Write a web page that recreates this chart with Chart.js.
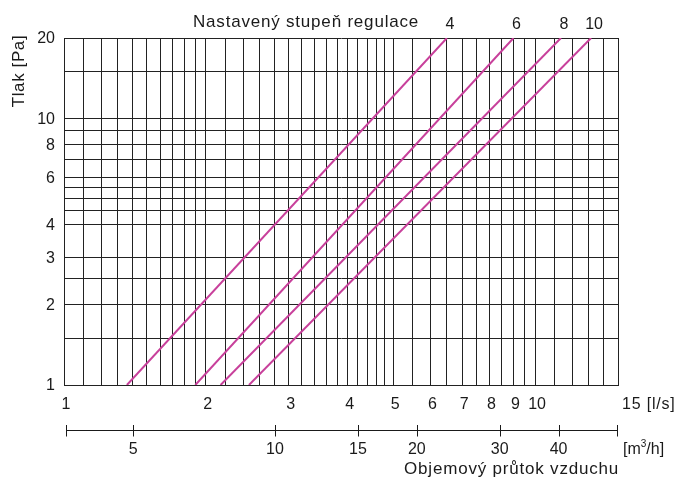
<!DOCTYPE html>
<html><head><meta charset="utf-8">
<script src="https://cdn.jsdelivr.net/npm/chart.js@4.4.0/dist/chart.umd.min.js"></script>
<style>html,body{margin:0;padding:0;background:#fff;} #wrap{width:678px;height:479px;position:relative;}</style>
</head><body><div id="wrap"><canvas id="c" width="678" height="479"></canvas></div>
<script>
// ---- data ----
const settings = ['4', '6', '8', '10'];
const pressureEnds = [1, 20];                 // Pa
const flowAt1Pa = [1.36, 1.9, 2.15, 2.47];    // l/s at 1 Pa
const flowAt20Pa = [6.5, 9.0, 11.35, 13.15];  // l/s at 20 Pa
const xGrid = [1,1.1,1.2,1.3,1.4,1.5,1.6,1.7,1.8,1.9,2,2.2,2.4,2.6,2.8,3,3.2,3.4,3.6,3.8,4,4.2,4.4,4.6,4.8,5,5.5,6,6.5,7,7.5,8,8.5,9,9.5,10,11,12,13,14,15];
const yGrid = [1,1.5,2,2.5,3,4,4.5,5,5.5,6,7,8,9,10,15,20];
const xTickLabels = [1,2,3,4,5,6,7,8,9,10];
const yTickLabels = [1,2,3,4,6,8,10,20];
const m3hTicks = [5,10,15,20,30,40];
const LS_PER_M3H = 1/3.6;

const lineColor = '#c8409b';
const gridColor = '#222';
const FONT = '"Liberation Sans", Arial, sans-serif';

const datasets = settings.map((s, i) => ({
  label: s,
  data: [{x: flowAt1Pa[i], y: pressureEnds[0]}, {x: flowAt20Pa[i], y: pressureEnds[1]}],
  borderColor: lineColor,
  borderWidth: 2,
  pointRadius: 0,
  showLine: true,
  fill: false
}));

const labelsPlugin = {
  id: 'labelsPlugin',
  afterDraw(chart) {
    const ctx = chart.ctx;
    const xs = chart.scales.x, ys = chart.scales.y;
    const ca = chart.chartArea;
    ctx.save();
    ctx.fillStyle = '#1a1a1a';
    ctx.strokeStyle = '#1a1a1a';
    // y tick labels
    ctx.font = '16px ' + FONT;
    ctx.textAlign = 'right';
    ctx.textBaseline = 'middle';
    yTickLabels.forEach(v => ctx.fillText(String(v), 55, ys.getPixelForValue(v) + 1));
    // x tick labels (l/s)
    ctx.textAlign = 'center';
    xTickLabels.forEach(v => ctx.fillText(String(v), xs.getPixelForValue(v) + 2, 405));
    // 15 [l/s]
    ctx.textAlign = 'left';
    ctx.letterSpacing = '0.8px';
    ctx.fillText('15 [l/s]', xs.getPixelForValue(15) + 4, 405);
    ctx.letterSpacing = '0px';
    // m3/h axis
    const axY = 430.5;
    const x0 = xs.getPixelForValue(1) + 2, x1 = xs.getPixelForValue(15);
    ctx.lineWidth = 1;
    ctx.beginPath();
    ctx.moveTo(x0, axY); ctx.lineTo(x1, axY);
    ctx.moveTo(Math.round(x0) + 0.5, axY - 5.5); ctx.lineTo(Math.round(x0) + 0.5, axY + 6);
    ctx.moveTo(Math.round(x1) - 0.5, axY - 5.5); ctx.lineTo(Math.round(x1) - 0.5, axY + 6);
    m3hTicks.forEach(v => {
      const px = Math.round(xs.getPixelForValue(v * LS_PER_M3H)) + 2.5;
      ctx.moveTo(px, axY - 5.5); ctx.lineTo(px, axY + 6);
    });
    ctx.stroke();
    ctx.textAlign = 'center';
    m3hTicks.forEach(v => ctx.fillText(String(v), xs.getPixelForValue(v * LS_PER_M3H) + 2, 450));
    // [m3/h]
    ctx.textAlign = 'left';
    let tx = x1 + 5;
    ctx.fillText('[m', tx, 450);
    tx += ctx.measureText('[m').width;
    ctx.font = '10px ' + FONT;
    ctx.fillText('3', tx, 444);
    tx += ctx.measureText('3').width;
    ctx.font = '16px ' + FONT;
    ctx.fillText('/h]', tx, 450);
    // axis title bottom
    ctx.font = '17px ' + FONT;
    ctx.letterSpacing = '0.8px';
    ctx.textAlign = 'right';
    ctx.textBaseline = 'alphabetic';
    ctx.fillText('Objemový průtok vzduchu', x1 + 1, 474);
    // top title
    ctx.textAlign = 'left';
    ctx.fillText('Nastavený stupeň regulace', 193, 27);
    ctx.letterSpacing = '0px';
    // setting labels at line tops
    ctx.font = '16px ' + FONT;
    ctx.textAlign = 'center';
    settings.forEach((s, i) => ctx.fillText(s, xs.getPixelForValue(flowAt20Pa[i]) + 3, 29));
    // y axis title
    ctx.translate(19, 71);
    ctx.rotate(-Math.PI / 2);
    ctx.font = '17px ' + FONT;
    ctx.letterSpacing = '0.6px';
    ctx.textAlign = 'center';
    ctx.textBaseline = 'middle';
    ctx.fillText('Tlak [Pa]', 0, 0);
    ctx.restore();
  }
};

new Chart(document.getElementById('c'), {
  type: 'scatter',
  data: { datasets },
  options: {
    responsive: false,
    animation: false,
    events: [],
    layout: { padding: { left: 64, right: 60, top: 38, bottom: 94 } },
    plugins: { legend: { display: false }, tooltip: { enabled: false } },
    scales: {
      x: {
        type: 'logarithmic', min: 1, max: 15,
        afterBuildTicks: sc => { sc.ticks = xGrid.map(v => ({ value: v })); },
        ticks: { display: false },
        grid: { color: gridColor, lineWidth: 1, drawTicks: false },
        border: { display: true, color: gridColor, width: 1 }
      },
      y: {
        type: 'logarithmic', min: 1, max: 20,
        afterBuildTicks: sc => { sc.ticks = yGrid.map(v => ({ value: v })); },
        ticks: { display: false },
        grid: { color: gridColor, lineWidth: 1, drawTicks: false },
        border: { display: true, color: gridColor, width: 1 }
      }
    }
  },
  plugins: [labelsPlugin]
});
</script>
</body></html>
